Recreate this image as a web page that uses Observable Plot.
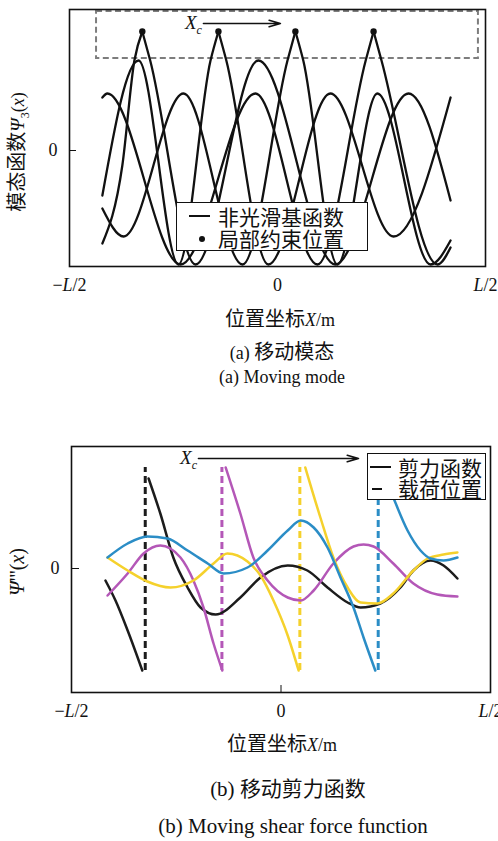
<!DOCTYPE html>
<html><head><meta charset="utf-8">
<script src="https://cdn.jsdelivr.net/npm/d3@7"></script>
<script src="https://cdn.jsdelivr.net/npm/@observablehq/plot@0.6"></script>
<style>
html,body{margin:0;padding:0;background:#fff;}
body{width:498px;height:841px;position:relative;overflow:hidden;font-family:"Liberation Serif","Noto Sans CJK SC",serif;color:#111;}
.panel{position:absolute;left:0;}
.cap{position:absolute;white-space:nowrap;transform:translateX(-50%);font-size:18px;line-height:22px;font-family:"Liberation Serif",serif;}
.cap.big{font-size:21px;line-height:25px;}
.cjk{font-family:"Noto Sans CJK SC",sans-serif;font-size:20px;}
.big .cjk{font-size:21px;}
.box{position:absolute;box-sizing:border-box;border:1.6px solid #111;background:#fff;}
.sym{position:absolute;background:#111;}
.lt{position:absolute;font-family:"Noto Sans CJK SC",sans-serif;font-size:21px;white-space:nowrap;}
</style></head>
<body>
<div id="pa" class="panel" style="top:0"></div>
<div id="pb" class="panel" style="top:420px"></div>

<div class="cap" style="left:282px;top:340px">(a) <span class="cjk">移动模态</span></div>
<div class="cap" style="left:282px;top:366px">(a) Moving mode</div>
<div class="cap big" style="left:288px;top:775px">(b) <span class="cjk">移动剪力函数</span></div>
<div class="cap big" style="left:293px;top:814px">(b) Moving shear force function</div>

<div class="box" style="left:176px;top:202px;width:192px;height:49px"></div>
<div class="sym" style="left:189px;top:215px;width:21px;height:2px"></div>
<div class="sym" style="left:199px;top:236px;width:6px;height:6px;border-radius:3px"></div>
<div class="lt" style="left:218px;top:205px;line-height:22px">非光滑基函数<br>局部约束位置</div>

<div class="box" style="left:367px;top:453px;width:119px;height:47px"></div>
<div class="sym" style="left:370px;top:466px;width:21px;height:2px"></div>
<div class="sym" style="left:372px;top:488px;width:10px;height:2px"></div>
<div class="lt" style="left:398px;top:457px;line-height:21px">剪力函数<br>载荷位置</div>

<script>
const SERIF = '"Liberation Serif", serif';
const CJK = '"Noto Sans CJK SC", sans-serif';

// ---------- shared axis ----------
const xTicks = [-0.5, 0, 0.5];
const xTickLabels = ["−L/2", "0", "L/2"];

// ---------- panel (a): moving modes ----------
const constraintX = [-0.325, -0.142, 0.043, 0.231];   // local constraint positions (cusps)
const cuspValue = 1.19;
const modeLeft = [
  [[-0.421, -0.93], [-0.373, -0.15], [-0.344, 0.90]],
  [[-0.421, -0.45], [-0.334, 0.90], [-0.238, -1.14], [-0.161, 0.90]],
  [[-0.421, -0.58], [-0.370, -0.86], [-0.226, 0.57], [-0.084, -1.14], [0.024, 0.90]],
  [[-0.421, 0.53], [-0.409, 0.57], [-0.233, -1.14], [-0.053, 0.57], [0.096, -1.14], [0.212, 0.90]]
];
const modeRight = [
  [[-0.306, 0.90], [-0.197, -1.14], [-0.046, 0.90], [0.139, -1.14], [0.315, 0.57], [0.416, -0.50]],
  [[-0.123, 0.90], [-0.022, -1.14], [0.127, 0.57], [0.279, -0.86], [0.416, 0.53]],
  [[0.062, 0.90], [0.144, -1.14], [0.240, 0.57], [0.368, -1.14], [0.416, -0.90]],
  [[0.250, 0.90], [0.385, -1.14], [0.416, -0.97]]
];
const boxA = {x1: -0.435, x2: 0.483, y1: 0.92, y2: 1.39};
const arrowA = {x1: -0.178, x2: 0.007, y: 1.27};

// ---------- panel (b): moving shear force ----------
const loadX = [-0.324, -0.141, 0.045, 0.232];
const shearColors = ["#1c1c1c", "#b457b7", "#f5d12c", "#2b8dc6"];
const shearLeft = [
  [[-0.419, -0.12], [-0.395, -0.32], [-0.366, -0.62], [-0.331, -1.02]],
  [[-0.414, -0.27], [-0.366, -0.05], [-0.328, 0.15], [-0.288, 0.23], [-0.240, 0.11], [-0.209, -0.12], [-0.185, -0.39], [-0.161, -0.75], [-0.140, -1.02]],
  [[-0.414, 0.11], [-0.366, -0.02], [-0.319, -0.13], [-0.264, -0.19], [-0.209, -0.12], [-0.161, 0.05], [-0.128, 0.15], [-0.080, 0.07], [-0.049, -0.07], [-0.018, -0.32], [0.016, -0.67], [0.042, -1.02]],
  [[-0.414, 0.11], [-0.366, 0.25], [-0.319, 0.32], [-0.271, 0.30], [-0.223, 0.18], [-0.175, 0.05], [-0.137, -0.05], [-0.080, 0.01], [-0.032, 0.18], [0.016, 0.38], [0.047, 0.48], [0.078, 0.41], [0.111, 0.21], [0.142, -0.09], [0.173, -0.39], [0.197, -0.69], [0.225, -1.02]]
];
const shearRight = [
  [[-0.316, 0.90], [-0.288, 0.55], [-0.257, 0.11], [-0.223, -0.19], [-0.192, -0.39], [-0.156, -0.46], [-0.097, -0.29], [-0.049, -0.09], [0.016, 0.03], [0.063, -0.02], [0.111, -0.19], [0.159, -0.34], [0.190, -0.39], [0.237, -0.35], [0.285, -0.19], [0.316, -0.02], [0.357, 0.08], [0.388, 0.03], [0.421, -0.10]],
  [[-0.132, 1.01], [-0.097, 0.55], [-0.066, 0.11], [-0.032, -0.12], [0.016, -0.29], [0.047, -0.32], [0.078, -0.22], [0.125, 0.05], [0.173, 0.22], [0.197, 0.24], [0.221, 0.22], [0.268, 0.05], [0.316, -0.15], [0.373, -0.26], [0.421, -0.28]],
  [[0.058, 1.01], [0.094, 0.51], [0.125, 0.11], [0.159, -0.19], [0.190, -0.34], [0.230, -0.35], [0.268, -0.25], [0.316, -0.02], [0.350, 0.10], [0.388, 0.14], [0.421, 0.16]],
  [[0.240, 1.01], [0.268, 0.71], [0.302, 0.38], [0.333, 0.18], [0.357, 0.10], [0.388, 0.08], [0.421, 0.11]]
];
const arrowB = {x1: -0.197, x2: 0.185, y: 1.10};

// ---------- build tables ----------
const modeRows = [];
constraintX.forEach((xc, i) => {
  modeLeft[i].concat([[xc, cuspValue]]).forEach(([x, y]) => modeRows.push({x, y, seg: i + "L"}));
  [[xc, cuspValue]].concat(modeRight[i]).forEach(([x, y]) => modeRows.push({x, y, seg: i + "R"}));
});
const shearRows = [];
shearColors.forEach((c, i) => {
  shearLeft[i].forEach(([x, y]) => shearRows.push({x, y, seg: i + "L", color: c}));
  shearRight[i].forEach(([x, y]) => shearRows.push({x, y, seg: i + "R", color: c}));
});
const loadTop = d3.max(shearRight, r => r[0][1]);
const loadRows = loadX.map((x, i) => ({x, y1: shearLeft[i][shearLeft[i].length - 1][1], y2: loadTop, color: shearColors[i]}));

// ---------- helpers ----------
function richText(svg, x, y, parts, {anchor = "middle", rotate = 0, size = 18} = {}) {
  const t = d3.select(svg).append("text")
    .attr("transform", `translate(${x},${y}) rotate(${rotate})`)
    .attr("text-anchor", anchor).attr("dy", "0.35em")
    .attr("font-family", SERIF).attr("font-size", size).attr("fill", "#111");
  let shift = 0;
  for (const p of parts) {
    const s = t.append("tspan").text(p.t);
    if (p.cjk) s.attr("font-family", CJK);
    if (p.size) s.attr("font-size", p.size);
    if (p.i) s.attr("font-style", "italic");
    const target = p.sub ? 5 : 0;
    if (p.sub) s.attr("font-size", 12);
    if (target !== shift) { s.attr("dy", target - shift); shift = target; }
  }
}
function italicTicks(svg) {
  d3.select(svg).selectAll('g[aria-label="x-axis tick label"] text').each(function () {
    const s = this.textContent;
    if (!s.includes("L")) return;
    const sel = d3.select(this);
    sel.text(null);
    const [a, b] = s.split("L");
    if (a) sel.append("tspan").text(a);
    sel.append("tspan").attr("font-style", "italic").text("L");
    sel.append("tspan").text(b);
  });
}
const fmt = d => xTickLabels[xTicks.indexOf(d)];
const yFmt = d => String(d);

// ---------- panel (a) ----------
const plotA = Plot.plot({
  width: 498, height: 335,
  marginLeft: 69, marginRight: 13, marginTop: 9, marginBottom: 69,
  x: {domain: [-0.5, 0.5]},
  y: {domain: [-1.16, 1.41]},
  style: {fontFamily: SERIF, fontSize: "18px", color: "#111", background: "transparent", overflow: "visible"},
  marks: [
    Plot.rect([boxA], {x1: "x1", x2: "x2", y1: "y1", y2: "y2", fill: "none", stroke: "#7d7d7d", strokeWidth: 2, strokeDasharray: "6,3.5"}),
    Plot.line(modeRows, {x: "x", y: "y", z: "seg", curve: "monotone-x", stroke: "#111", strokeWidth: 2.3, clip: true}),
    Plot.dot(constraintX, {x: d => d, y: () => cuspValue, r: 3.2, fill: "#111"}),
    Plot.arrow([arrowA], {x1: "x1", x2: "x2", y1: "y", y2: "y", stroke: "#111", strokeWidth: 1.6, headLength: 11, headAngle: 32}),
    Plot.axisX({ticks: xTicks, tickFormat: fmt, tickSize: 0, tickPadding: 12, fontSize: 18}),
    Plot.axisY({ticks: [0], tickFormat: yFmt, tickSize: 0, tickPadding: 12, fontSize: 18}),
    Plot.axisY({ticks: [0], tickSize: 7, dx: 7, tickFormat: () => ""}),
    Plot.frame({stroke: "#111", strokeWidth: 1.6})
  ]
});
document.getElementById("pa").appendChild(plotA);
italicTicks(plotA);
{
  const sx = plotA.scale("x"), sy = plotA.scale("y");
  richText(plotA, sx.apply(arrowA.x1) - 1, sy.apply(arrowA.y) - 1, [{t: "X", i: true}, {t: "c", i: true, sub: true}], {anchor: "end", size: 19});
  richText(plotA, 280, 320, [{t: "位置坐标", cjk: true, size: 20}, {t: "X", i: true}, {t: "/m"}]);
  richText(plotA, 18, 152, [{t: "模态函数", cjk: true, size: 20}, {t: "Ψ", i: true, size: 19}, {t: "3", sub: true}, {t: "("}, {t: "x", i: true}, {t: ")"}], {rotate: -90});
}

// ---------- panel (b) ----------
const plotB = Plot.plot({
  width: 498, height: 340,
  marginLeft: 71, marginRight: 8, marginTop: 26, marginBottom: 68,
  x: {domain: [-0.5, 0.5]},
  y: {domain: [-1.24, 1.22]},
  color: {type: "identity"},
  style: {fontFamily: SERIF, fontSize: "18px", color: "#111", background: "transparent", overflow: "visible"},
  marks: [
    Plot.ruleX(loadRows, {x: "x", y1: "y1", y2: "y2", stroke: "color", strokeWidth: 3, strokeDasharray: "7,4"}),
    Plot.line(shearRows, {x: "x", y: "y", z: "seg", stroke: "color", curve: "monotone-x", strokeWidth: 2.5}),
    Plot.arrow([arrowB], {x1: "x1", x2: "x2", y1: "y", y2: "y", stroke: "#111", strokeWidth: 1.6, headLength: 11, headAngle: 32}),
    Plot.axisX({ticks: xTicks, tickFormat: fmt, tickSize: 0, tickPadding: 12, fontSize: 18}),
    Plot.axisX({ticks: [0], tickSize: 7, dy: -7, tickFormat: () => ""}),
    Plot.axisY({ticks: [0], tickFormat: yFmt, tickSize: 0, tickPadding: 12, fontSize: 18}),
    Plot.axisY({ticks: [0], tickSize: 8, dx: 8, tickFormat: () => ""}),
    Plot.frame({stroke: "#111", strokeWidth: 1.6})
  ]
});
document.getElementById("pb").appendChild(plotB);
italicTicks(plotB);
{
  const sx = plotB.scale("x"), sy = plotB.scale("y");
  richText(plotB, sx.apply(arrowB.x1) - 1, sy.apply(arrowB.y) - 1, [{t: "X", i: true}, {t: "c", i: true, sub: true}], {anchor: "end", size: 19});
  richText(plotB, 282, 325, [{t: "位置坐标", cjk: true, size: 20}, {t: "X", i: true}, {t: "/m"}]);
  richText(plotB, 18, 152, [{t: "Ψ", i: true, size: 21}, {t: "'''", size: 20}, {t: "(", size: 20}, {t: "x", i: true, size: 20}, {t: ")", size: 20}], {rotate: -90});
}
</script>
</body></html>
